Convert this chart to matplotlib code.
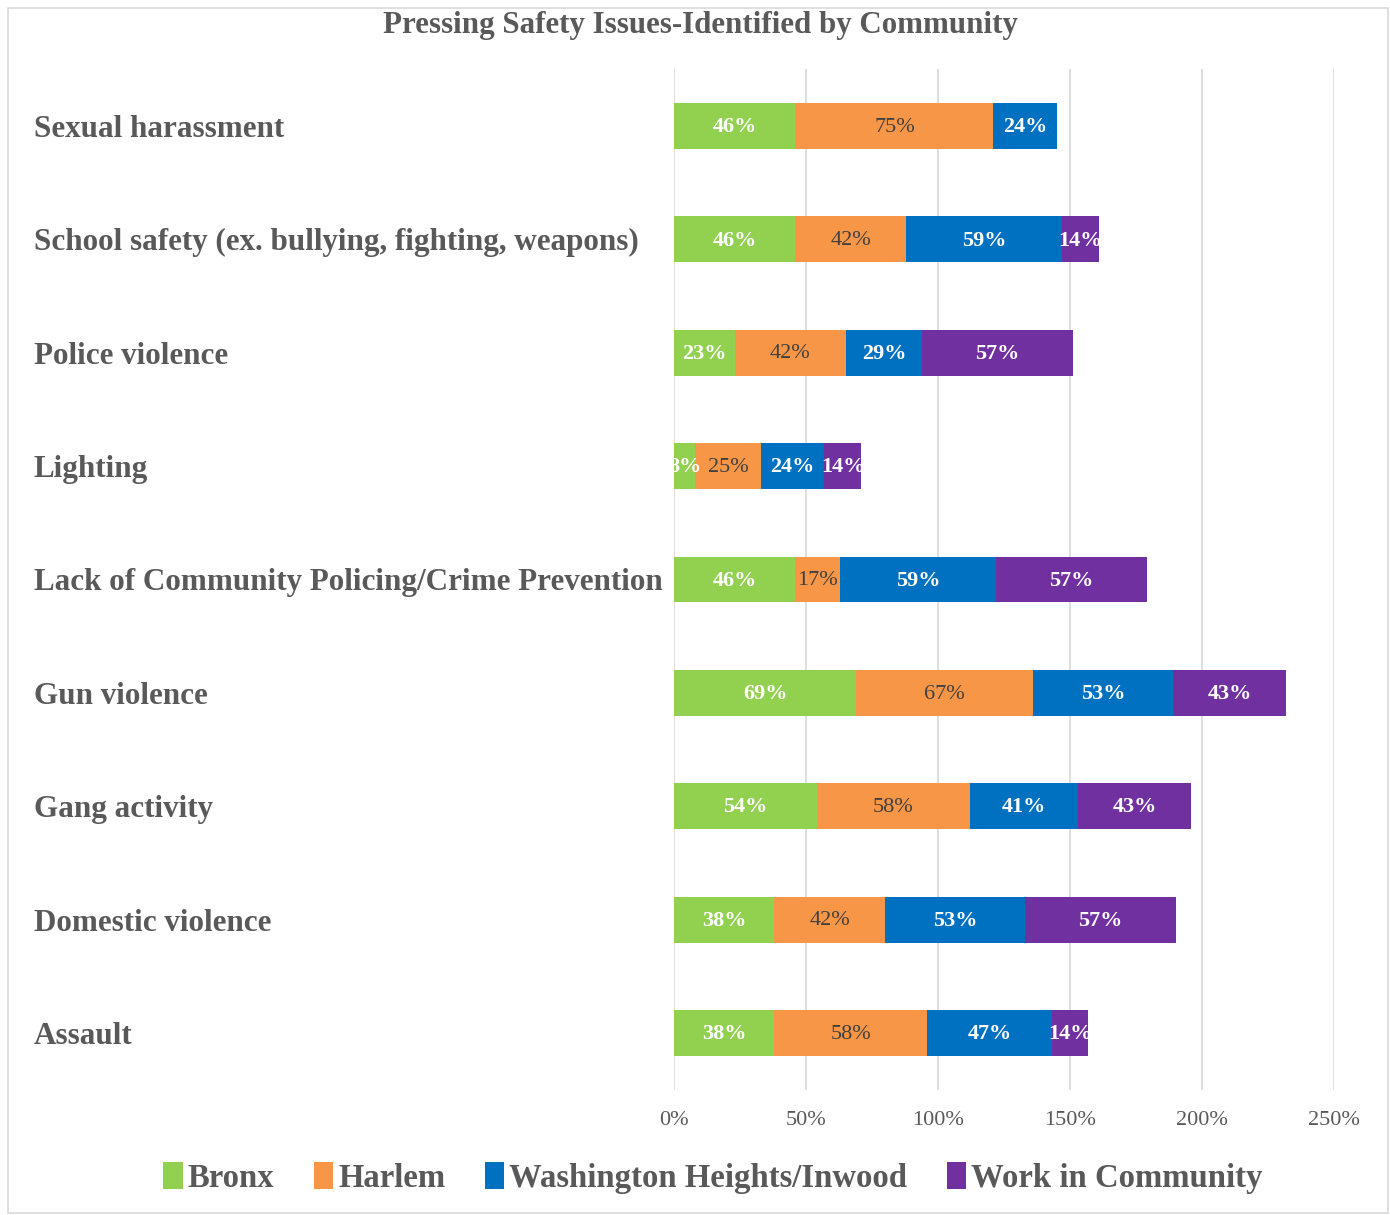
import matplotlib
matplotlib.use("Agg")
import matplotlib.pyplot as plt
from matplotlib.patches import Rectangle, Patch
import matplotlib.transforms as mtransforms

categories = ["Sexual harassment",
              "School safety (ex. bullying, fighting, weapons)",
              "Police violence",
              "Lighting",
              "Lack of Community Policing/Crime Prevention",
              "Gun violence",
              "Gang activity",
              "Domestic violence",
              "Assault"]
series_names = ["Bronx", "Harlem", "Washington Heights/Inwood", "Work in Community"]
bronx = [46, 46, 23, 8, 46, 69, 54, 38, 38]
harlem = [75, 42, 42, 25, 17, 67, 58, 42, 58]
wash = [24, 59, 29, 24, 59, 53, 41, 53, 47]
work = [0, 14, 57, 14, 57, 43, 43, 57, 14]
xticks = [0, 50, 100, 150, 200, 250]
xtick_labels = ["0%", "50%", "100%", "150%", "200%", "250%"]
title = "Pressing Safety Issues-Identified by Community"

colors = ["#92D050", "#F79646", "#0070C0", "#7030A0"]
label_colors = ["white", "#404040", "white", "white"]
serif = ["Liberation Serif", "DejaVu Serif"]

fig = plt.figure(figsize=(13.9, 12.15), dpi=100)
ax = fig.add_axes([674/1390, 1-1089.7/1215, (1334-674)/1390, (1089.7-69.3)/1215])

ys = list(range(len(categories)))
left = [0]*len(categories)
for vals, c, lc in zip([bronx, harlem, wash, work], colors, label_colors):
    ax.barh(ys, vals, left=left, height=0.405, color=c, zorder=3)
    for y, v, l in zip(ys, vals, left):
        if v > 0:
            ax.text(l + v/2, y + 0.01, f"{v}%", ha="center", va="center", color=lc,
                    fontsize=16, family=serif,
                    fontweight="bold" if lc == "white" else "normal", zorder=4)
    left = [a + b for a, b in zip(left, vals)]

ax.set_xlim(0, 250)
ax.set_ylim(len(categories)-0.5, -0.5)
ax.set_xticks(xticks)
ax.set_xticklabels(xtick_labels, family=serif, fontsize=16, color="#595959")
ax.tick_params(axis="x", length=0, pad=15)
ax.set_yticks([])
for s in ax.spines.values():
    s.set_visible(False)
ax.grid(axis="x", color="#D9D9D9", linewidth=1.2, zorder=0)
ax.set_axisbelow(True)

trans = mtransforms.blended_transform_factory(fig.transFigure, ax.transData)
for y, cat in zip(ys, categories):
    fig.text(34/1390, y + 0.03, cat, transform=trans, ha="left", va="center",
             fontsize=22.4, family=serif, fontweight="bold", color="#595959")

fig.text(700/1390, 1-26/1215, title, ha="center", va="center", fontsize=22.3,
         family=serif, fontweight="bold", color="#595959")

handles = [Patch(facecolor=c, edgecolor="none") for c in colors]
leg = fig.legend(handles, series_names, loc="center", bbox_to_anchor=(713/1390, 1-1178/1215),
                 ncol=4, frameon=False, handlelength=0.6, handleheight=0.9,
                 handletextpad=0.15, columnspacing=1.2,
                 prop={"family": serif, "size": 23.6, "weight": "bold"})
for t in leg.get_texts():
    t.set_color("#595959")

fig.patches.append(Rectangle((8/1390, 1-1213/1215), 1380/1390, 1205/1215,
                             transform=fig.transFigure, fill=False,
                             edgecolor="#D9D9D9", linewidth=1.2))

fig.savefig("out.png", dpi=100, facecolor="white")
